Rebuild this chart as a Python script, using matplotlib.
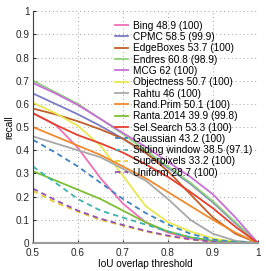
import matplotlib
matplotlib.use("Agg")
import matplotlib.pyplot as plt

plt.rcParams['font.family'] = ['Liberation Sans', 'DejaVu Sans']

iou = [0.5, 0.55, 0.6, 0.65, 0.7, 0.75, 0.8, 0.85, 0.9, 0.95, 1.0]

labels = ["Bing 48.9 (100)", "CPMC 58.5 (99.9)", "EdgeBoxes 53.7 (100)",
          "Endres 60.8 (98.9)", "MCG 62 (100)", "Objectness 50.7 (100)",
          "Rahtu 46 (100)", "Rand.Prim 50.1 (100)", "Ranta.2014 39.9 (99.8)",
          "Sel.Search 53.3 (100)", "Gaussian 43.2 (100)",
          "Sliding window 38.5 (97.1)", "Superpixels 33.2 (100)",
          "Uniform 28.7 (100)"]

bing = [0.56, 0.51, 0.41, 0.28, 0.17, 0.09, 0.045, 0.02, 0.008, 0.002, 0.0]
cpmc = [0.645, 0.60, 0.555, 0.505, 0.45, 0.39, 0.325, 0.255, 0.175, 0.085, 0.0]
edgeboxes = [0.58, 0.555, 0.525, 0.49, 0.45, 0.39, 0.31, 0.21, 0.11, 0.04, 0.0]
endres = [0.70, 0.65, 0.60, 0.535, 0.47, 0.40, 0.33, 0.26, 0.18, 0.09, 0.0]
mcg = [0.69, 0.645, 0.595, 0.535, 0.475, 0.415, 0.35, 0.285, 0.21, 0.11, 0.0]
objectness = [0.605, 0.56, 0.505, 0.42, 0.29, 0.16, 0.09, 0.05, 0.02, 0.005, 0.0]
rahtu = [0.46, 0.43, 0.40, 0.37, 0.32, 0.27, 0.19, 0.10, 0.04, 0.01, 0.0]
randprim = [0.50, 0.46, 0.42, 0.38, 0.33, 0.28, 0.22, 0.16, 0.10, 0.045, 0.0]
ranta = [0.31, 0.27, 0.23, 0.19, 0.14, 0.09, 0.05, 0.025, 0.01, 0.003, 0.0]
selsearch = [0.56, 0.51, 0.465, 0.43, 0.39, 0.34, 0.285, 0.22, 0.15, 0.07, 0.0]
gaussian = [0.445, 0.39, 0.33, 0.26, 0.19, 0.13, 0.08, 0.04, 0.015, 0.005, 0.0]
sliding = [0.33, 0.26, 0.19, 0.14, 0.11, 0.08, 0.05, 0.025, 0.01, 0.003, 0.0]
superpixels = [0.225, 0.175, 0.135, 0.10, 0.075, 0.05, 0.03, 0.015, 0.005, 0.0, 0.0]
uniform = [0.235, 0.185, 0.14, 0.105, 0.078, 0.053, 0.032, 0.016, 0.006, 0.0, 0.0]

series = [bing, cpmc, edgeboxes, endres, mcg, objectness, rahtu, randprim,
          ranta, selsearch, gaussian, sliding, superpixels, uniform]
colors = ["#ef6fb4", "#7b7bc6", "#c0602a", "#8fd27a", "#c86fd6", "#e8e84e",
          "#a8a8a8", "#f08a2c", "#7cbe34", "#e5402f", "#3d85c0", "#3cb4aa",
          "#e6d030", "#9650b4"]
styles = ["-"] * 10 + ["--"] * 4

xticks = [0.5, 0.6, 0.7, 0.8, 0.9, 1.0]
xticklabels = ["0.5", "0.6", "0.7", "0.8", "0.9", "1"]
yticks = [0, 0.1, 0.2, 0.3, 0.4, 0.5, 0.6, 0.7, 0.8, 0.9, 1.0]
yticklabels = ["0", "0.1", "0.2", "0.3", "0.4", "0.5", "0.6", "0.7", "0.8", "0.9", "1"]

fig = plt.figure(figsize=(2.66, 2.71), dpi=100)
ax = fig.add_axes([0.124, 0.103, 0.846, 0.856])

for s, c, ls, lab in zip(series, colors, styles, labels):
    if ls == "--":
        ax.plot(iou, s, color=c, lw=1.3, ls=(0, (3, 2.2)), label=lab)
    else:
        ax.plot(iou, s, color=c, lw=1.3, label=lab)

ax.set_xlim(0.5, 1.0)
ax.set_ylim(0, 1.0)
ax.set_xticks(xticks)
ax.set_xticklabels(xticklabels)
ax.set_yticks(yticks)
ax.set_yticklabels(yticklabels)
ax.tick_params(direction="in", length=2.5, labelsize=7.2, colors="#262626")
ax.tick_params(axis="x", pad=3.5)
ax.tick_params(axis="y", pad=2.5)
ax.grid(True, ls=(0, (1, 3)), color="#a0a0a0", lw=0.7)
for side in ["top", "right"]:
    ax.spines[side].set_visible(False)
ax.spines["left"].set_color("#404040")
ax.spines["bottom"].set_color("#9a9a9a")
ax.spines["bottom"].set_linewidth(1.5)
ax.set_xlabel("IoU overlap threshold", fontsize=7.2, labelpad=1)
ax.set_ylabel("recall", fontsize=7.2, labelpad=1)

ax.legend(loc="upper right", bbox_to_anchor=(1.0, 0.985), frameon=False,
          fontsize=7.3, handlelength=1.25, handletextpad=0.45,
          labelspacing=0.13, borderaxespad=0.2)

fig.savefig("out.png", dpi=100)
